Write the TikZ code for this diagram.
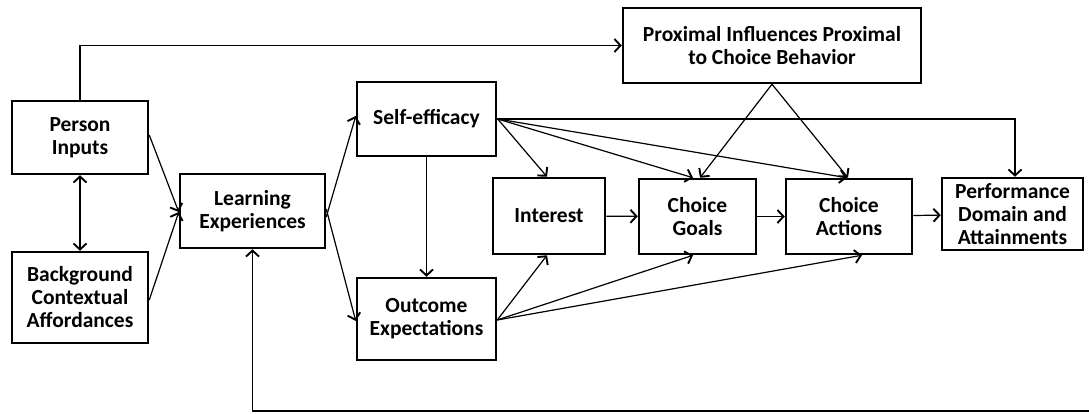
\documentclass[tikz,border=0pt]{standalone}
\usepackage{fontspec}
\setmainfont{Carlito}
\usepackage{tikz}
\usetikzlibrary{arrows.meta,positioning}

\begin{document}
\begin{tikzpicture}[x=1pt,y=-1pt,
  >={Straight Barb[length=6pt,width=13pt,line width=1.9pt]},
  box/.style={draw,line width=2.5pt,align=center,inner sep=0pt,
              font=\bfseries\fontsize{21.5}{23}\selectfont},
  arr/.style={line width=1.2pt,->}]
 \useasboundingbox (0,0) rectangle (1089,414);
 % boxes
 \node[box,minimum width=136pt,minimum height=73pt] (person) at (80,137.5) {Person\\Inputs};
 \node[box,minimum width=136pt,minimum height=91pt] (backgr) at (80,297.5) {Background\\Contextual\\Affordances};
 \node[box,minimum width=145pt,minimum height=74pt] (learn) at (252.5,211) {Learning\\Experiences};
 \node[box,minimum width=139pt,minimum height=74pt] (selfeff) at (426.5,119) {Self-efficacy};
 \node[box,minimum width=139pt,minimum height=82pt] (outcome) at (426.5,319) {Outcome\\Expectations};
 \node[box,minimum width=112pt,minimum height=76pt] (interest) at (549,216) {Interest};
 \node[box,minimum width=117pt,minimum height=75pt] (goals) at (697.5,216.5) {Choice\\Goals};
 \node[box,minimum width=126pt,minimum height=75pt] (actions) at (849,216.5) {Choice\\Actions};
 \node[box,minimum width=141pt,minimum height=72pt] (perform) at (1012.5,214) {Performance\\Domain and\\Attainments};
 \node[box,minimum width=298pt,minimum height=75pt] (proximal) at (772,45.5) {Proximal Influences Proximal\\to Choice Behavior};
 \coordinate (fbend) at (1089,411);
 % left part
 \draw[arr] (person.north) |- (proximal.west);
 \draw[arr,<->] (person.south) -- (backgr.north);
 \draw[arr] ([yshift=2.5pt]person.east) -- ([yshift=-1pt]learn.west);
 \draw[arr] ([yshift=-2.5pt]backgr.east) -- ([yshift=-1pt]learn.west);
 \draw[arr] ([yshift=-6pt]learn.east) -- ([yshift=3pt]selfeff.west);
 \draw[arr] ([yshift=2pt]learn.east) -- ([yshift=-2pt]outcome.west);
 \draw[arr] (selfeff.south) -- (outcome.north);
 \draw[arr,line width=1.6pt] (fbend) -| (learn.south);
 % self-efficacy
 \draw[arr] ([xshift=0.5pt]selfeff.east) -- ([xshift=-2pt]interest.north);
 \draw[arr] ([xshift=0.5pt]selfeff.east) -- ([xshift=-4.5pt]goals.north);
 \draw[arr] ([xshift=0.5pt]selfeff.east) -- ([xshift=-2pt]actions.north);
 \draw[arr] (selfeff.east) -| ([xshift=2.5pt]perform.north);
 % outcome expectations
 \draw[arr] ([yshift=-1pt]outcome.east) -- ([xshift=-2pt]interest.south);
 \draw[arr] ([yshift=-1pt]outcome.east) -- ([xshift=-4.5pt]goals.south);
 \draw[arr] ([yshift=-1pt]outcome.east) -- ([xshift=13pt]actions.south);
 % proximal influences
 \draw[arr] (proximal.south) -- ([xshift=2.5pt]goals.north);
 \draw[arr] (proximal.south) -- ([xshift=-1pt]actions.north);
 % chain
 \draw[arr] (interest) -- (goals);
 \draw[arr] (goals) -- (actions);
 \draw[arr] (actions) -- (perform);
\end{tikzpicture}
\end{document}
